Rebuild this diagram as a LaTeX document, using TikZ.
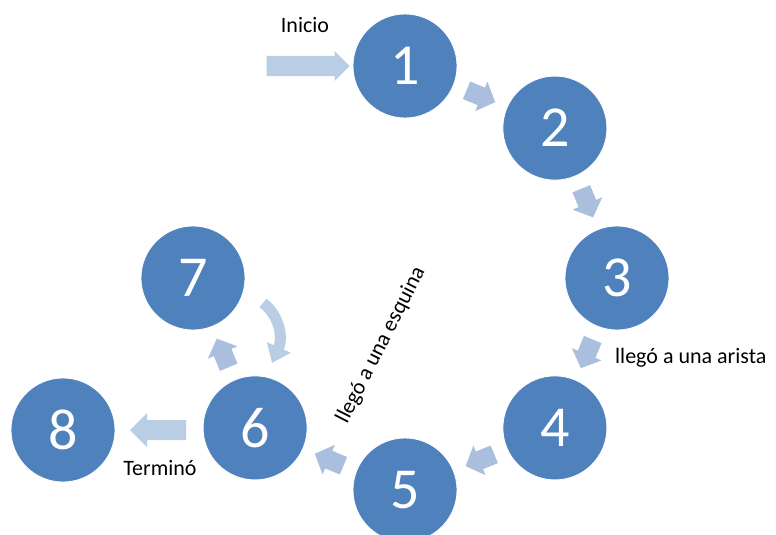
\documentclass[tikz,border=0pt]{standalone}
\usepackage{fontspec}
\setmainfont{Carlito}
\usetikzlibrary{arrows.meta,calc}
\definecolor{circblue}{HTML}{4F81BD}
\definecolor{arrowlight}{HTML}{B9CDE5}
\definecolor{arrowmid}{HTML}{AABFDD}
\begin{document}
\begin{tikzpicture}[x=1pt,y=1pt,
  stepcircle/.style={circle, fill=circblue, draw=white, line width=0.8pt, minimum size=104pt, inner sep=0pt, text=white, font=\fontsize{58}{58}\selectfont},
  lbl/.style={font=\fontsize{22}{22}\selectfont, text=black, inner sep=0pt},
  smallarrow/.pic={\fill[arrowmid] (-15,-9.5) -- (1,-9.5) -- (1,-16) -- (16,0) -- (1,16) -- (1,9.5) -- (-15,9.5) -- cycle;}
]
\useasboundingbox (0,0) rectangle (776,-535);
\coordinate (C) at (405,-278);
\foreach \k in {1,...,7} {
  \node[stepcircle] (n\k) at ([shift={({90-45*(\k-1)}:212)}]C) {\k};
}
\node[stepcircle] (n8) at (63,-430) {8};
% cycle arrows
\foreach \k in {1,...,6} {
  \pic[rotate={67.5-45*(\k-1)-90}] at ([shift={({67.5-45*(\k-1)}:197)}]C) {smallarrow};
}
% Inicio arrow
\coordinate (ini) at ([xshift=-3pt]n1.west);
\fill[arrowlight] ($(ini)+(-83,10)$) -- ($(ini)+(-15,10)$) -- ($(ini)+(-15,15)$) -- (ini)
  -- ($(ini)+(-15,-15)$) -- ($(ini)+(-15,-10)$) -- ($(ini)+(-83,-10)$) -- cycle;
% Termino arrow
\coordinate (ter) at (130,-430);
\fill[arrowlight] (ter) -- ($(ter)+(17,17)$) -- ($(ter)+(17,10)$) -- ($(ter)+(56,10)$)
  -- ($(ter)+(56,-10)$) -- ($(ter)+(17,-10)$) -- ($(ter)+(17,-17)$) -- cycle;
% curved arrow 7 -> 6
\coordinate (cvs) at (263,-303);
\coordinate (cve) at (272,-363);
\draw[arrowlight, line width=11pt, -{Triangle[length=17pt,width=25pt]}] (cvs) .. controls (280,-316) and (283,-338) .. (cve);
% labels
\node[lbl, anchor=base] (inicio) at (305,-33) {Inicio};
\node[lbl, anchor=base west] (arista) at (615,-363) {llegó a una arista};
\node[lbl, anchor=base] (termino) at (160,-475) {Terminó};
\node[lbl, rotate=63] (esquina) at (381,-345) {llegó a una esquina};
\end{tikzpicture}
\end{document}
